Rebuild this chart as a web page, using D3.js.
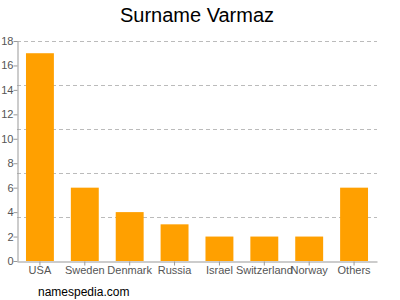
<!DOCTYPE html>
<html>
<head>
<meta charset="utf-8">
<script src="https://cdn.jsdelivr.net/npm/d3@7"></script>
<style>
body { margin: 0; background: #fff; }
svg { font-family: "Liberation Sans", Arial, sans-serif; }
</style>
</head>
<body>
<div id="chart"></div>
<script>
// data
const countries = ["USA", "Sweden", "Denmark", "Russia", "Israel", "Switzerland", "Norway", "Others"];
const counts = [17, 6, 4, 3, 2, 2, 2, 6];
const yTicks = [0, 2, 4, 6, 8, 10, 12, 14, 16, 18];
const gridLines = [3.6, 7.2, 10.8, 14.4, 18];

const width = 400, height = 300;
const plotLeft = 17, plotRight = 377, plotTop = 41, plotBottom = 261;

const svg = d3.select("#chart")
    .append("svg")
        .attr("width", width)
        .attr("height", height);

const x = d3.scaleBand()
    .domain(countries)
    .range([plotLeft, plotRight])
    .paddingInner(0.378)
    .paddingOuter(0.2);

const y = d3.scaleLinear()
    .domain([0, 18])
    .range([plotBottom, plotTop]);

// dashed grid
svg.append("g")
    .selectAll("line")
    .data(gridLines)
    .join("line")
        .attr("x1", plotLeft)
        .attr("x2", plotRight)
        .attr("y1", d => Math.round(y(d)) + 0.5)
        .attr("y2", d => Math.round(y(d)) + 0.5)
        .attr("stroke", "#bbb")
        .attr("stroke-dasharray", "4,3");

// bars
svg.append("g")
    .selectAll("rect")
    .data(countries)
    .join("rect")
        .attr("x", d => x(d))
        .attr("y", (d, i) => y(counts[i]))
        .attr("width", x.bandwidth())
        .attr("height", (d, i) => plotBottom - y(counts[i]))
        .attr("fill", "#ffa000");

// y axis
const yAxis = svg.append("g")
    .attr("transform", `translate(${plotLeft + 0.5},0)`)
    .call(d3.axisLeft(y).tickValues(yTicks).tickSize(4).tickSizeOuter(0));

// x axis
const xAxis = svg.append("g")
    .attr("transform", `translate(0,${plotBottom + 0.5})`)
    .call(d3.axisBottom(x).tickSize(4).tickSizeOuter(0));

[yAxis, xAxis].forEach(a => {
    a.select(".domain").attr("stroke", "#999");
    a.selectAll(".tick line").attr("stroke", "#999");
    a.selectAll(".tick text")
        .attr("fill", "#555")
        .style("font-size", "11px")
        .style("font-family", "'Liberation Sans', Arial, sans-serif");
});
yAxis.selectAll(".tick text").attr("x", -4);
xAxis.selectAll(".tick text").attr("y", 5);

// title
svg.append("text")
    .attr("x", 197)
    .attr("y", 22)
    .attr("text-anchor", "middle")
    .style("font-size", "20px")
    .attr("fill", "#000")
    .text("Surname Varmaz");

// footer
svg.append("text")
    .attr("x", 38)
    .attr("y", 296)
    .style("font-size", "12px")
    .attr("fill", "#000")
    .text("namespedia.com");
</script>
</body>
</html>
